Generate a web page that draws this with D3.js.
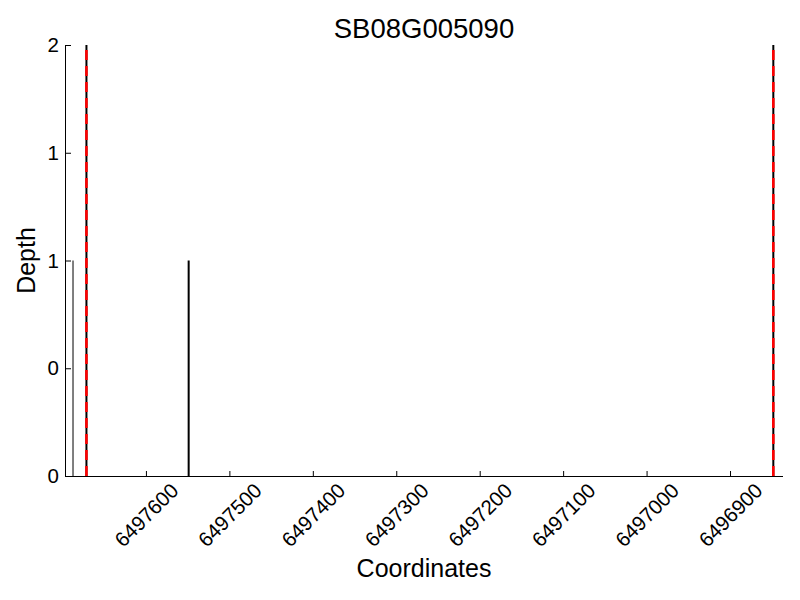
<!DOCTYPE html>
<html>
<head>
<meta charset="utf-8">
<script src="https://cdn.jsdelivr.net/npm/d3@7"></script>
<style>
  body { margin: 0; background: #fff; }
  text { font-family: "Liberation Sans", Arial, sans-serif; fill: #000; }
</style>
</head>
<body>
<div id="chart"></div>
<script>
// DATA
const title = "SB08G005090";
const xDomain = [6497697, 6496836.5]; // reversed coordinate axis
const yDomain = [0, 2];
const xTicks = [6497600, 6497500, 6497400, 6497300, 6497200, 6497100, 6497000, 6496900];
const yTicks = [0, 0.5, 1, 1.5, 2];
// read depth spikes (start, end coordinate, depth)
const spikeStart = [6497688, 6497550];
const spikeEnd = [6497687, 6497547.6];
const spikeDepth = [1, 1];
// gene boundaries
const boundaries = [6497671.3, 6496848.1];

const svg = d3.select("#chart").append("svg")
  .attr("width", 800)
  .attr("height", 600);

const margin = { top: 45, right: 17, bottom: 124, left: 65 },
  width = 800 - margin.left - margin.right,
  height = 600 - margin.top - margin.bottom;

const x = d3.scaleLinear().domain(xDomain).range([0, width]);
const y = d3.scaleLinear().domain(yDomain).range([height, 0]);

const g = svg.append("g")
  .attr("transform", "translate(" + margin.left + "," + margin.top + ")");

// depth spikes
const spikes = spikeStart.map((s, i) => ({ s: s, e: spikeEnd[i], d: spikeDepth[i] }));
g.append("g")
  .selectAll("rect")
  .data(spikes)
  .enter()
  .append("rect")
  .attr("x", d => Math.min(x(d.s), x(d.e)))
  .attr("width", d => Math.max(1, Math.abs(x(d.e) - x(d.s))))
  .attr("y", d => y(d.d))
  .attr("height", d => y(0) - y(d.d))
  .attr("fill", "#000");

// boundaries: black solid under red dashed
g.append("g")
  .selectAll("line")
  .data(boundaries)
  .enter()
  .append("line")
  .attr("x1", d => x(d)).attr("x2", d => x(d))
  .attr("y1", y(yDomain[0])).attr("y2", y(yDomain[1]))
  .attr("stroke", "#000")
  .attr("stroke-width", 2);

g.append("g")
  .selectAll("line")
  .data(boundaries)
  .enter()
  .append("line")
  .attr("x1", d => x(d)).attr("x2", d => x(d))
  .attr("y1", y(yDomain[0])).attr("y2", y(yDomain[1]))
  .attr("stroke", "#ff0000")
  .attr("stroke-width", 2.6)
  .attr("stroke-dasharray", "10,6");

// axes with inward ticks
const xAxis = d3.axisBottom(x).tickValues(xTicks).tickSize(-5).tickFormat(d3.format("d"));
const yAxis = d3.axisLeft(y).tickValues(yTicks).tickSize(-6).tickFormat(d => String(Math.trunc(d)));

const xg = g.append("g")
  .attr("transform", "translate(0," + height + ")")
  .call(xAxis);
xg.select(".domain").attr("d", "M0.5,0.5H" + width);
xg.selectAll(".tick text")
  .attr("font-size", 20.5)
  .attr("text-anchor", "middle")
  .attr("y", 0)
  .attr("dy", "0.35em")
  .attr("transform", "translate(0,39) rotate(-45)");

const yg = g.append("g").call(yAxis);
yg.select(".domain").attr("d", "M0.5," + height + "V0");
yg.selectAll(".tick text")
  .attr("font-size", 20.5)
  .attr("x", -6);

svg.selectAll(".domain, .tick line").attr("stroke", "#000");

// labels
svg.append("text")
  .attr("x", margin.left + width / 2)
  .attr("y", 38)
  .attr("text-anchor", "middle")
  .attr("font-size", 27.5)
  .text(title);

svg.append("text")
  .attr("x", margin.left + width / 2)
  .attr("y", 577)
  .attr("text-anchor", "middle")
  .attr("font-size", 25)
  .text("Coordinates");

svg.append("text")
  .attr("transform", "translate(35," + (margin.top + height / 2) + ") rotate(-90)")
  .attr("text-anchor", "middle")
  .attr("font-size", 25)
  .text("Depth");
</script>
</body>
</html>
